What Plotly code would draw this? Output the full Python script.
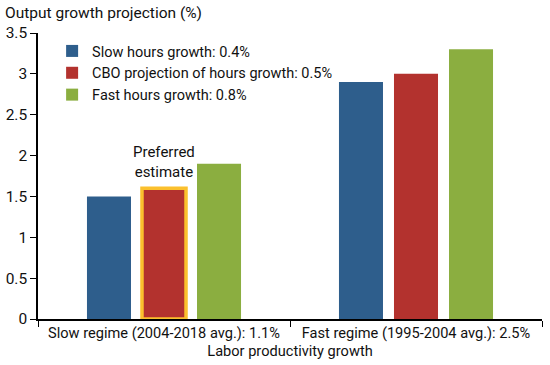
import plotly.graph_objects as go

categories = ["Slow regime (2004-2018 avg.): 1.1%", "Fast regime (1995-2004 avg.): 2.5%"]
series_names = ["Slow hours growth: 0.4%", "CBO projection of hours growth: 0.5%", "Fast hours growth: 0.8%"]
slow_hours = [1.5, 2.9]
cbo_hours = [1.6, 3.0]
fast_hours = [1.9, 3.3]
colors = ["#2E5E8C", "#B3322E", "#8BAE40"]
highlight = "#FBC02D"

fig = go.Figure()
fig.add_trace(go.Bar(x=categories, y=slow_hours, name=series_names[0], offsetgroup="a",
                     marker=dict(color=colors[0], line=dict(width=0))))
fig.add_trace(go.Bar(x=categories, y=cbo_hours, name=series_names[1], offsetgroup="b",
                     marker=dict(color=colors[1], line=dict(width=0))))
fig.add_trace(go.Bar(x=categories, y=fast_hours, name=series_names[2], offsetgroup="c",
                     marker=dict(color=colors[2], line=dict(width=0))))
# highlight of the preferred estimate, overlaid on the CBO bar
fig.add_trace(go.Bar(x=categories[:1], y=cbo_hours[:1], offsetgroup="b", showlegend=False,
                     marker=dict(color=colors[1], line=dict(color=highlight, width=3.5))))

fig.add_annotation(x=categories[0], y=cbo_hours[0], text="Preferred<br>estimate",
                   showarrow=False, yanchor="bottom", yshift=5,
                   font=dict(size=15, color="#111"))

fig.add_annotation(xref="paper", yref="paper", x=-0.069, y=1.03, xanchor="left", yanchor="bottom",
                   text="Output growth projection (%)", showarrow=False,
                   font=dict(size=15.5, color="#111"))

fig.update_layout(
    width=550, height=365,
    margin=dict(l=38, r=8, t=33, b=46),
    paper_bgcolor="white", plot_bgcolor="white",
    font=dict(family="Roboto", size=15, color="#111"),
    barmode="group", bargap=0.345, bargroupgap=0.2,
    showlegend=True,
    legend=dict(x=0.028, y=0.993, xanchor="left", yanchor="top",
                bgcolor="rgba(0,0,0,0)", font=dict(size=14.5), tracegroupgap=0,
                itemwidth=30),
    xaxis=dict(showline=True, linecolor="black", linewidth=1.5, automargin=False,
               ticks="outside", tickson="boundaries", ticklen=6, tickcolor="black",
               tickfont=dict(size=14.6), tickangle=0,
               title=dict(text="Labor productivity growth", standoff=0, font=dict(size=14.6)),
               showgrid=False),
    yaxis=dict(range=[0, 3.5], dtick=0.5, showline=True, linecolor="black", linewidth=1.5,
               automargin=False, tickfont=dict(size=15.5),
               ticks="outside", ticklen=6, tickcolor="black", showgrid=False, zeroline=False,
               tickformat="~g"),
)

# remove the browser's default 8px page margin so the figure fills the window exactly
fig.write_html("out.html", config={"displayModeBar": False},
               post_script="document.body.style.margin='0';document.body.style.overflow='hidden';")
